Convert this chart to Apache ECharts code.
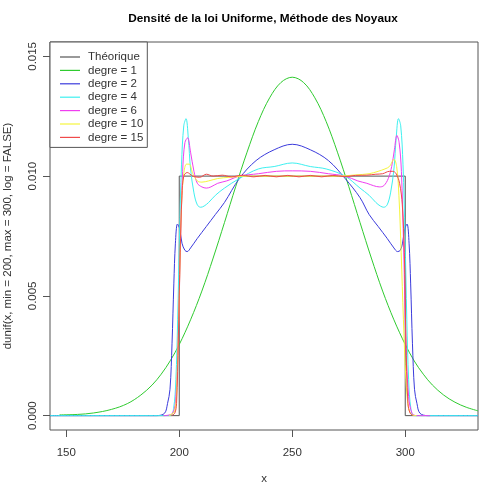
<!DOCTYPE html>
<html>
<head>
<meta charset="utf-8">
<script src="https://cdn.jsdelivr.net/npm/echarts@6/dist/echarts.min.js"></script>
<style>
  html, body { margin: 0; padding: 0; background: #fff; }
  #chart { width: 487px; height: 487px; }
</style>
</head>
<body>
<div id="chart"></div>
<script>
// données
var seriesNames = ['Théorique', 'degre = 1', 'degre = 2', 'degre = 4', 'degre = 6', 'degre = 10', 'degre = 15'];
var seriesColors = ['#555555', '#2fcb2f', '#3b3bdc', '#3ef0f0', '#f03ef0', '#f5f53c', '#f04a4a'];

var xTicks = [150, 200, 250, 300];
var yTicks = [0, 0.005, 0.01, 0.015];

var xTheo = [142.8, 200, 200, 300, 300, 332.2];
var yTheo = [0, 0, 0.01, 0.01, 0, 0];

var xD1 = [147, 155, 162, 170, 177, 183, 188, 192, 196, 200, 205, 210, 215, 220, 225, 230, 235, 240, 245, 250,
           255, 260, 265, 270, 275, 280, 285, 290, 295, 300, 304, 308, 312, 317, 322, 327, 332.2];
var yD1 = [0.00003, 0.00005, 0.00011, 0.00026, 0.0005, 0.00086, 0.00128, 0.00173, 0.00229, 0.00297, 0.0040, 0.0052,
           0.00658, 0.00806, 0.00957, 0.0110, 0.01228, 0.01327, 0.01391, 0.01413,
           0.01391, 0.01327, 0.01228, 0.0110, 0.00957, 0.00806, 0.00658, 0.0052, 0.0040, 0.00297, 0.00228, 0.00173,
           0.00128, 0.00086, 0.00056, 0.00035, 0.0002];

var xD2 = [142.8, 190, 193.5, 194.8, 195.9, 196.8, 197.6, 198.3, 199.2, 200.2, 201.2, 202.5, 203.5, 205, 208, 212, 216, 220,
           226.6, 234, 242, 250, 258, 266, 273.4, 280, 284, 288, 292, 295, 296.6, 297.8, 298.8, 299.8, 300.8, 301.7, 302.4,
           303.2, 304.1, 305.2, 306.5, 310, 332.2];
var yD2 = [0, 0, 0.0001, 0.0005, 0.0011, 0.003, 0.0055, 0.0072, 0.0080, 0.0078, 0.0072, 0.0069, 0.00685, 0.0070, 0.0074,
           0.0079, 0.0084, 0.0089, 0.0099, 0.01065, 0.0111, 0.01133, 0.0111, 0.01065, 0.0099, 0.0091, 0.0084, 0.0079,
           0.0074, 0.0070, 0.00685, 0.0069, 0.0072, 0.0078, 0.0080, 0.0072, 0.0055, 0.003, 0.0011, 0.0005, 0.0001, 0, 0];

var xD4 = [142.8, 196, 197.5, 198.5, 199.3, 200.1, 201, 202, 203, 204, 205, 206.5, 208, 209.5, 211, 213, 216, 220, 226.6,
           235, 242, 250, 258, 265, 273.4, 280, 284, 287, 289, 290.5, 292, 293.5, 295, 296, 297, 298, 299, 299.9, 300.7,
           301.5, 302.5, 304, 332.2];
var yD4 = [0, 0, 0.0003, 0.0015, 0.004, 0.0075, 0.0105, 0.0121, 0.0124, 0.0116, 0.0103, 0.0093, 0.0088, 0.0087, 0.00875,
           0.0089, 0.0092, 0.0095, 0.0099, 0.0103, 0.0104, 0.01055, 0.0104, 0.0103, 0.0100, 0.0095, 0.0092, 0.0089,
           0.00875, 0.0087, 0.0088, 0.0093, 0.0103, 0.0116, 0.0124, 0.0121, 0.0105, 0.0075, 0.004, 0.0015, 0.0003, 0, 0];

var xD6 = [193, 197, 198.5, 199.5, 200.5, 201.5, 202.5, 203.7, 205, 206.5, 208, 210, 212, 214, 217, 221, 226.6, 235, 243,
           250, 258, 266, 273.4, 279, 283, 286, 288.5, 290.5, 292.5, 294, 295.2, 296.3, 297.3, 298.3, 299.3, 300.3, 301.5,
           303, 305, 311];
var yD6 = [0, 0.0001, 0.0008, 0.003, 0.007, 0.0102, 0.0114, 0.0116, 0.0110, 0.0102, 0.0097, 0.00955, 0.0095, 0.00955,
           0.0097, 0.0098, 0.0100, 0.0101, 0.0102, 0.01022, 0.0102, 0.0101, 0.0100, 0.0098, 0.0097, 0.0096, 0.00955,
           0.0096, 0.0099, 0.0104, 0.0111, 0.0117, 0.0114, 0.0102, 0.007, 0.003, 0.0008, 0.0001, 0, 0];

var xD10 = [195.5, 198, 199, 200, 201, 202, 203.2, 204.4, 206, 208, 210, 213, 217, 222, 230, 250, 270, 278, 284, 288, 291,
            293, 295, 296.2, 297.2, 298.2, 299.2, 300.3, 301.5, 303, 305];
var yD10 = [0, 0.0002, 0.0015, 0.005, 0.0088, 0.0101, 0.0105, 0.0105, 0.0101, 0.0098, 0.00975, 0.0098, 0.0099, 0.00995,
            0.0100, 0.0100, 0.0100, 0.01005, 0.0101, 0.0102, 0.0103, 0.0104, 0.0107, 0.0104, 0.0092, 0.0068, 0.004,
            0.0015, 0.0003, 0.00003, 0];

var xD15 = [196.5, 198, 198.8, 199.6, 200.4, 201.2, 202, 203.5, 206, 209, 212, 215, 219, 223, 228, 233, 238, 243, 248, 253,
            258, 263, 268, 273, 278, 283, 287, 290, 293, 294.5, 296, 297.5, 298.7, 299.6, 300.3, 301.2, 302.2, 303.5];
var yD15 = [0, 0.0001, 0.0005, 0.0032, 0.0068, 0.0092, 0.0100, 0.01015, 0.0100, 0.00995, 0.01008, 0.0100, 0.01004,
            0.00997, 0.01004, 0.00997, 0.01003, 0.00997, 0.01003, 0.00997, 0.01003, 0.00997, 0.01003, 0.00998, 0.01003,
            0.01004, 0.01008, 0.0101, 0.0102, 0.0102, 0.0101, 0.0097, 0.0088, 0.0068, 0.0032, 0.0005, 0.0001, 0];

function zip(xs, ys) {
    return xs.map(function(x, i) { return [x, ys[i]]; });
}

var allData = [
    zip(xTheo, yTheo), zip(xD1, yD1), zip(xD2, yD2), zip(xD4, yD4),
    zip(xD6, yD6), zip(xD10, yD10), zip(xD15, yD15)
];

var font = 'Liberation Sans, Arial, sans-serif';

var myChart = echarts.init(document.getElementById('chart'));

var option = {
    backgroundColor: '#fff',
    animation: false,
    title: {
        text: 'Densité de la loi Uniforme, Méthode des Noyaux',
        left: 258,
        top: 8,
        textAlign: 'center',
        textStyle: { fontFamily: font, fontSize: 11.8, fontWeight: 'bold', color: '#000' }
    },
    legend: {
        orient: 'vertical',
        left: 50,
        top: 42,
        padding: [9, 4, 4, 10],
        icon: 'rect',
        itemWidth: 20,
        itemHeight: 1.2,
        itemGap: 1.4,
        backgroundColor: '#fff',
        borderColor: '#555',
        borderWidth: 1,
        borderRadius: 0,
        data: seriesNames,
        textStyle: { fontFamily: font, fontSize: 11.5, color: '#333', padding: [0, 0, 0, 3] }
    },
    grid: {
        left: 50,
        right: 9,
        top: 42,
        bottom: 57,
        outerBoundsMode: 'none',
        containLabel: false,
        show: true,
        borderColor: '#555',
        borderWidth: 1
    },
    xAxis: {
        type: 'value',
        min: 142.8,
        max: 332.2,
        name: 'x',
        nameLocation: 'middle',
        nameGap: 43,
        nameTextStyle: { fontFamily: font, fontSize: 11.5, color: '#333' },
        axisLine: { show: false, onZero: false },
        axisTick: { show: true, length: 7, lineStyle: { color: '#555' }, customValues: xTicks },
        axisLabel: { fontFamily: font, fontSize: 11.5, color: '#333', margin: 17, customValues: xTicks },
        splitLine: { show: false }
    },
    yAxis: {
        type: 'value',
        min: -0.0006,
        max: 0.0156,
        name: 'dunif(x, min = 200, max = 300, log = FALSE)',
        nameLocation: 'middle',
        nameRotate: 90,
        nameGap: 36,
        nameTextStyle: { fontFamily: font, fontSize: 11.5, color: '#333' },
        axisLine: { show: false, onZero: false },
        axisTick: { show: true, length: 7, lineStyle: { color: '#555' }, customValues: yTicks },
        axisLabel: {
            fontFamily: font, fontSize: 11.5, color: '#333', margin: 11, rotate: 90,
            customValues: yTicks,
            formatter: function(v) { return v.toFixed(3); }
        },
        splitLine: { show: false }
    },
    series: seriesNames.map(function(name, i) {
        return {
            name: name,
            type: 'line',
            data: allData[i],
            symbol: 'none',
            smooth: i === 0 ? false : 0.35,
            color: seriesColors[i],
            lineStyle: { width: 1, color: seriesColors[i] }
        };
    })
};

myChart.setOption(option);
window.addEventListener('resize', function() {
    myChart.resize();
});
</script>
</body>
</html>
